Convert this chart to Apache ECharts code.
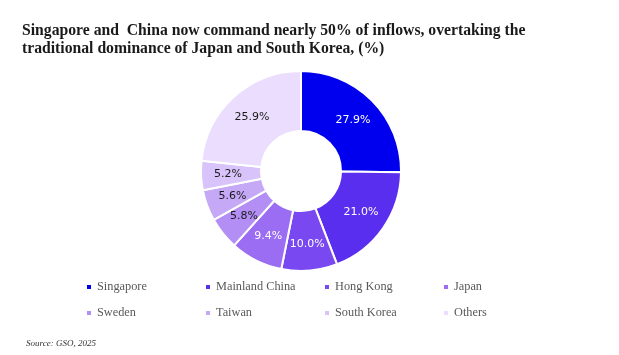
<!DOCTYPE html>
<html><head><meta charset="utf-8">
<script src="https://cdn.jsdelivr.net/npm/echarts@6/dist/echarts.min.js"></script>
<style>html,body{margin:0;padding:0;background:#fff}#c{width:619px;height:355px}</style>
</head><body><div id="c"></div>
<script>
var categories = ['Singapore','Mainland China','Hong Kong','Japan','Sweden','Taiwan','South Korea','Others'];
var values = [27.9, 21.0, 10.0, 9.4, 5.8, 5.6, 5.2, 25.9];
var colors = ['#0000EE','#5A2EEF','#7A48F1','#9B6DF3','#B28EF5','#C5A9F7','#D8C4FA','#EADDFD'];
var labelColors = ['#ffffff','#ffffff','#ffffff','#ffffff','#1a1a1a','#1a1a1a','#1a1a1a','#1a1a1a'];

var chart = echarts.init(document.getElementById('c'));
var data = categories.map(function(c,i){
  return {name:c, value:values[i], itemStyle:{color:colors[i]}, label:{color:labelColors[i]}};
});
var colX = [85, 204, 323, 442];
var rowY = [281, 307];
var legends = categories.map(function(c,i){
  return {
    data: [c], left: colX[i % 4], top: rowY[Math.floor(i / 4)], orient:'horizontal',
    itemWidth: 6, itemHeight: 6, icon: 'rect', padding: 0,
    textStyle: {fontFamily:'Liberation Serif', fontSize: 12.3, color:'#595959'}
  };
});
chart.setOption({
  animation:false,
  title:[{
    text:'Singapore and  China now command nearly 50% of inflows, overtaking the\ntraditional dominance of Japan and South Korea, (%)',
    left: 17, top: 17,
    textStyle:{fontFamily:'Liberation Serif', fontWeight:'bold', fontSize:15.7, color:'#1a1a1a', lineHeight:18}
  },{
    text:'Source: GSO, 2025', left: 21, top: 334,
    textStyle:{fontFamily:'Liberation Serif', fontStyle:'italic', fontWeight:'normal', fontSize:9, color:'#333'}
  }],
  legend: legends,
  series:[{
    type:'pie', center:[301,171], radius:[40,100], startAngle:90, clockwise:true,
    itemStyle:{borderColor:'#fff', borderWidth:2},
    label:{show:true, position:'inside', formatter: function(p){return p.value.toFixed(1)+'%';},
      fontFamily:'DejaVu Sans', fontSize:11},
    labelLine:{show:false},
    data:data
  }]
});
</script></body></html>
